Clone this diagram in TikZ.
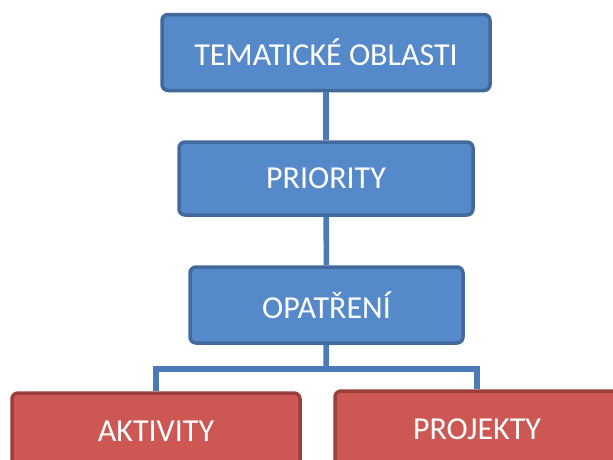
\documentclass[tikz,border=0pt]{standalone}
\usepackage{fontspec}
\setmainfont{Carlito}
\definecolor{modra}{HTML}{5689CA}
\definecolor{modraokraj}{HTML}{41699C}
\definecolor{cervena}{HTML}{CC5753}
\definecolor{cervenaokraj}{HTML}{9B3F3D}
\definecolor{spoj}{HTML}{4A7AB8}

\begin{document}
\begin{tikzpicture}[x=1pt,y=-1pt,
		blok/.style={draw=modraokraj, fill=modra, line width=3.5pt, rounded corners=6pt, text=white, font=\fontsize{32}{36}\selectfont},
		cblok/.style={blok, draw=cervenaokraj, fill=cervena}]
				\useasboundingbox (0,0) rectangle (613,459);
				\node[blok, minimum width=328pt, minimum height=76pt] (T) at (326,52.5) {TEMATICKÉ OBLASTI};
				\node[blok, minimum width=294pt, minimum height=73pt] (P) at (326,178.5) {PRIORITY};
				\node[blok, minimum width=273pt, minimum height=76pt] (O) at (326.5,305) {OPATŘENÍ};
				\node[cblok, minimum width=288pt, minimum height=76pt] (A) at (156,431) {AKTIVITY};
				\node[cblok, minimum width=284pt, minimum height=76pt] (J) at (477,429) {PROJEKTY};
				
				\coordinate (V) at (326,369);
				\draw[spoj, line width=5.5pt] (T) -- (P);
				\draw[spoj, line width=5.5pt] (P) -- (O);
				\draw[spoj, line width=5.5pt] (O) -- (V);
				\draw[spoj, line width=5.5pt] (V) -| (A.north);
				\draw[spoj, line width=5.5pt] (V) -| (J.north);
			\end{tikzpicture}
\end{document}
